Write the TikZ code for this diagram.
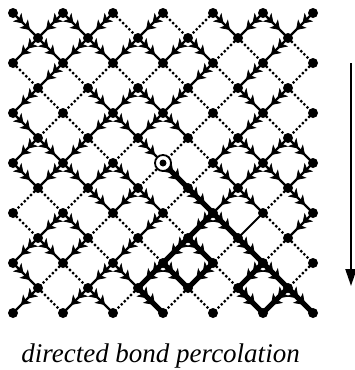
\documentclass[tikz,border=0pt]{standalone}
\usepackage{fontspec}
\setmainfont{Liberation Serif}
\usetikzlibrary{arrows.meta,decorations.markings}

\pgfdeclarelayer{bondlayer}
\pgfdeclarelayer{heavylayer}
\pgfsetlayers{bondlayer,heavylayer,main}

\tikzset{
  site/.style={circle, fill=black, inner sep=0pt, minimum size=10pt},
  ring/.style={circle, draw=black, fill=white, line width=1.8pt, inner sep=0pt, minimum size=16pt},
  twohead/.style 2 args={postaction={decorate}, decoration={markings,
      mark=at position 0.42 with {\arrow{Stealth[length=#1,width=#2,inset=2.5pt,line width=0.8pt]}},
      mark=at position 0.68 with {\arrow{Stealth[length=#1,width=#2,inset=2.5pt,line width=0.8pt]}}}},
  % first pass: ordinary bonds (o = open, c = closed, l = plain line, t = cluster)
  bond o/.style={line width=2.2pt, twohead={9pt}{12pt}},
  bond c/.style={line width=2.2pt, dash pattern=on 2.2pt off 2.2pt},
  bond l/.style={line width=2pt},
  bond t/.style={draw=none},
  % second pass: bonds of the cluster grown from the origin
  heavy o/.style={draw=none},
  heavy c/.style={draw=none},
  heavy l/.style={draw=none},
  heavy t/.style={line width=5pt, twohead={10pt}{14pt}},
}

\begin{document}
\begin{tikzpicture}[x=1pt, y=-1pt]
  \useasboundingbox (0,0) rectangle (354,370);

  % lattice sites
  \foreach \j in {0,...,12} {
    \foreach \c in {0,...,12} {
      \pgfmathtruncatemacro\odd{mod(\j+\c,2)}
      \ifnum\odd=0
        \node[site] (v-\j-\c) at ({13+25*\c},{13+25*\j}) {};
      \fi
    }
  }

  % bonds between row j and row j+1, slot m spans columns m and m+1
  \foreach \pass/\lay in {bond/bondlayer, heavy/heavylayer} {
    \begin{pgfonlayer}{\lay}
    \foreach \j/\row in {
        0/{o,o,o,o,c,o,c,c,o,o,o,o},
        1/{o,o,o,o,o,o,o,o,c,c,o,c},
        2/{c,o,c,c,c,c,c,o,c,o,c,c},
        3/{o,c,c,o,o,o,o,c,c,o,o,c},
        4/{o,c,c,o,o,o,o,c,c,o,c,c},
        5/{o,o,o,c,c,o,c,c,o,o,o,o},
        6/{o,o,o,o,o,c,t,c,o,o,o,o},
        7/{c,c,c,o,o,o,c,t,o,o,c,o},
        8/{c,o,o,c,c,o,c,t,t,l,c,o},
        9/{o,o,o,c,o,c,t,t,c,t,c,c},
        10/{o,c,c,o,o,t,t,t,c,t,t,c},
        11/{o,c,o,o,c,t,c,c,c,t,t,t}} {
      \pgfmathtruncatemacro\jn{\j+1}
      \foreach \s [count=\m from 0] in \row {
        \pgfmathtruncatemacro\mr{\m+1}
        \pgfmathtruncatemacro\odd{mod(\j+\m,2)}
        \ifnum\odd=0
          \draw[\pass\space\s] (v-\j-\m.center) -- (v-\jn-\mr.center);
        \else
          \draw[\pass\space\s] (v-\j-\mr.center) -- (v-\jn-\m.center);
        \fi
      }
    }
    \end{pgfonlayer}
  }

  % origin of the cluster
  \node[ring] (origin) at (v-6-6.center) {};
  \node[site, minimum size=7pt] (origin-dot) at (origin.center) {};

  % direction of time
  \coordinate (flow-top) at (351,63);
  \coordinate (flow-tip) at (351,286);
  \draw[line width=2.2pt, -{Triangle[length=17pt,width=11pt]}] (flow-top) -- (flow-tip);

  \node (caption) at (160.5,356) {\fontsize{27}{31}\selectfont\itshape directed bond percolation};
\end{tikzpicture}
\end{document}
